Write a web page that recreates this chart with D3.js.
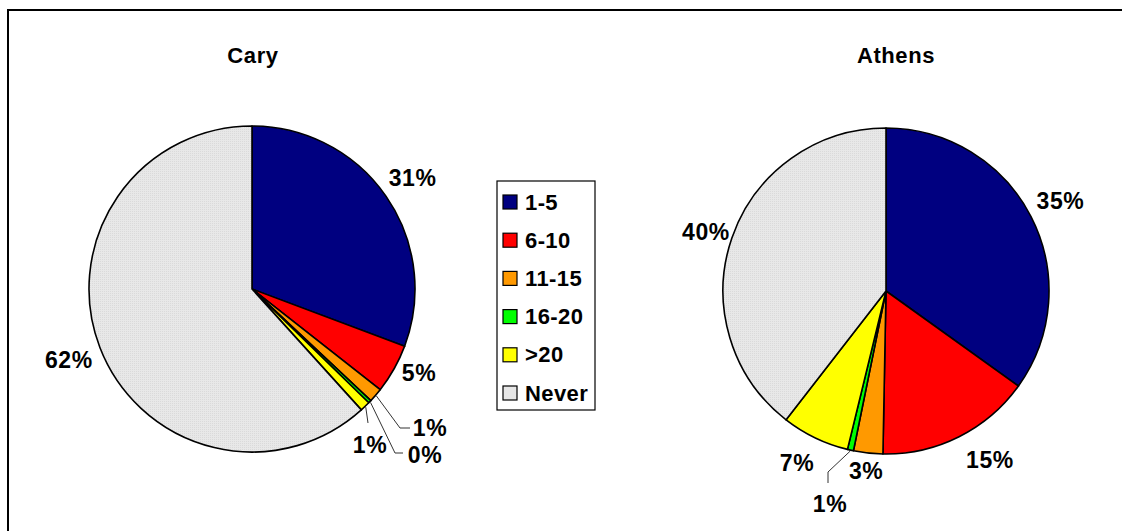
<!DOCTYPE html>
<html>
<head>
<meta charset="utf-8">
<script src="https://cdn.jsdelivr.net/npm/d3@7"></script>
<style>
  html, body { margin: 0; padding: 0; background: #fff; }
  svg { display: block; font-family: "Liberation Sans", Arial, sans-serif; font-weight: bold; }
</style>
</head>
<body>
<svg id="chart" width="1122" height="531"></svg>
<script>
// Visit-frequency categories shared by both pies
const categories = ["1-5", "6-10", "11-15", "16-20", ">20", "Never"];
// Share of respondents (percent) per category
const caryValues = [30.7, 4.9, 1.4, 0.3, 1.0, 61.7];
const athensValues = [34.9, 15.4, 2.9, 0.6, 6.7, 39.5];
const cities = ["Cary", "Athens"];
const sliceColors = ["#000080", "#ff0000", "#ff9900", "#00ff00", "#ffff00", "url(#neverFill)"];

const W = 1122, H = 531;
const svg = d3.select("#chart");
const fontSize = 23;
const letterSpacing = 0.6;

// Fine stipple used for the "Never" slice
const defs = svg.append("defs");
const pat = defs.append("pattern").attr("id", "neverFill")
  .attr("width", 2).attr("height", 2).attr("patternUnits", "userSpaceOnUse");
pat.append("rect").attr("width", 2).attr("height", 2).attr("fill", "#e8e8e8");
pat.append("rect").attr("width", 1).attr("height", 1).attr("fill", "#dadada");

// Outer frame
svg.append("rect").attr("x", 8).attr("y", 10).attr("width", W + 20).attr("height", H + 20)
  .attr("fill", "#fff").attr("stroke", "#000").attr("stroke-width", 2);

const colorScale = d3.scaleOrdinal().domain(categories).range(sliceColors);

// Per-chart layout: centre, radius, title position, and hand-placed labels (some with leader lines)
const layouts = [
  { cx: 252, cy: 289, r: 163, titleX: 253, titleY: 55,
    placed: {
      1: { label: [167, 84] },
      2: { label: [178, 139], pts: [[148, 139], [158, 139]] },
      3: { label: [173, 166], pts: [[143, 164], [151, 164]] },
      4: { label: [118, 156], pts: [[116, 134]] }
    } },
  { cx: 886, cy: 291, r: 163, titleX: 896, titleY: 55,
    placed: {
      1: { label: [104, 169] },
      3: { label: [-56, 213], pts: [[-58, 181], [-58, 192]] },
      4: { label: [-89, 172] },
      5: { label: [-180, -59] }
    } }
];
const seriesValues = [caryValues, athensValues];

const pie = d3.pie().sort(null).value(d => d.value);

// Measure label text so default labels sit just outside the rim
const measurer = svg.append("text").attr("font-size", fontSize)
  .attr("letter-spacing", letterSpacing).attr("visibility", "hidden");
function textSize(s) {
  measurer.text(s);
  const b = measurer.node().getBBox();
  return [b.width, fontSize * 0.72];
}

cities.forEach((city, ci) => {
  const L = layouts[ci];
  const data = categories.map((c, i) => ({ category: c, value: seriesValues[ci][i], idx: i }));
  const arcs = pie(data);
  const arc = d3.arc().innerRadius(0).outerRadius(L.r);
  const g = svg.append("g").attr("transform", `translate(${L.cx},${L.cy})`);

  g.selectAll("path.slice").data(arcs).join("path")
    .attr("class", "slice")
    .attr("d", arc)
    .attr("fill", d => colorScale(d.data.category))
    .attr("stroke", "#000").attr("stroke-width", 1.6).attr("stroke-linejoin", "round");

  svg.append("text")
    .attr("x", L.titleX).attr("y", L.titleY)
    .attr("text-anchor", "middle").attr("dominant-baseline", "central")
    .attr("letter-spacing", letterSpacing)
    .attr("font-size", fontSize - 1).text(city);

  arcs.forEach(a => {
    const txt = Math.round(a.data.value) + "%";
    const mid = (a.startAngle + a.endAngle) / 2;
    const dir = [Math.sin(mid), -Math.cos(mid)];
    const p = L.placed[a.data.idx];
    let lx, ly;
    if (p) {
      [lx, ly] = p.label;
      if (p.pts) {
        const pts = [[dir[0] * (L.r + 1), dir[1] * (L.r + 1)]].concat(p.pts);
        g.append("path")
          .attr("d", d3.line()(pts))
          .attr("fill", "none").attr("stroke", "#333").attr("stroke-width", 1);
      }
    } else {
      const [tw, th] = textSize(txt);
      const proj = Math.abs(dir[0]) * tw / 2 + Math.abs(dir[1]) * th / 2;
      const rr = L.r + 8 + proj;
      lx = dir[0] * rr; ly = dir[1] * rr;
    }
    g.append("text")
      .attr("x", lx).attr("y", ly)
      .attr("text-anchor", "middle").attr("dominant-baseline", "central")
      .attr("letter-spacing", letterSpacing)
      .attr("font-size", fontSize).text(txt);
  });
});
measurer.remove();

// Legend
const legend = svg.append("g").attr("transform", "translate(497,181)");
legend.append("rect").attr("width", 98).attr("height", 229)
  .attr("fill", "#fff").attr("stroke", "#000").attr("stroke-width", 1.2);
const legendY = d3.scalePoint().domain(categories).range([21, 212]);
const items = legend.selectAll("g.item").data(categories).join("g")
  .attr("class", "item")
  .attr("transform", d => `translate(0,${legendY(d)})`);
items.append("rect").attr("x", 6).attr("y", -7).attr("width", 14).attr("height", 14)
  .attr("fill", d => colorScale(d) === "url(#neverFill)" ? "#e6e6e6" : colorScale(d))
  .attr("stroke", "#000").attr("stroke-width", 1.2);
items.append("text").attr("x", 28).attr("y", 0)
  .attr("dominant-baseline", "central").attr("font-size", fontSize - 1)
  .attr("letter-spacing", letterSpacing - 0.2)
  .text(d => d);
</script>
</body>
</html>
